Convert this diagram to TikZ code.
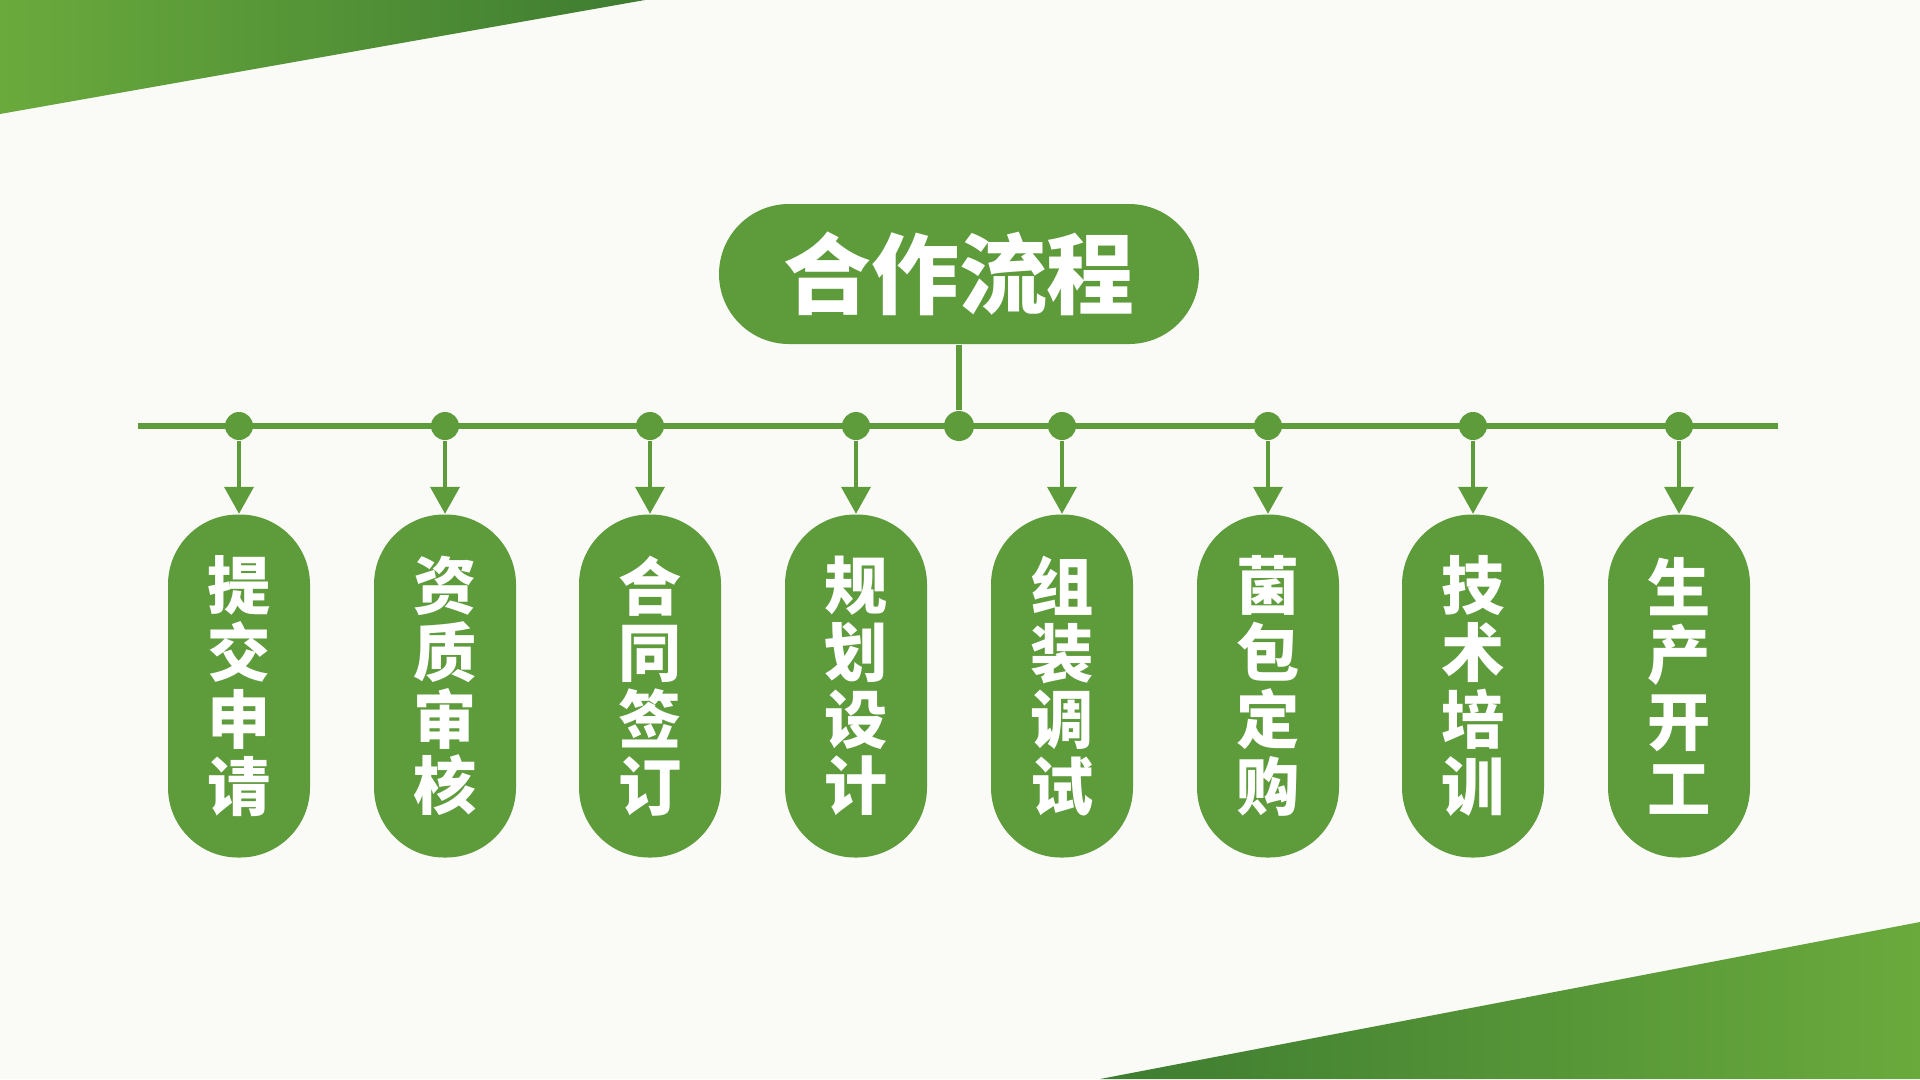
\documentclass[tikz,border=0pt]{standalone}
\usepackage{fontspec}
\newfontfamily\cjk{Noto Sans CJK SC}[BoldFont={Noto Sans CJK SC Black}]
\usetikzlibrary{arrows.meta}
\definecolor{verde}{HTML}{5E9B3B}
\definecolor{verdeclaro}{HTML}{6AAA3C}
\definecolor{verdeoscuro}{HTML}{3E7C31}
\definecolor{fondo}{HTML}{FAFAF7}
\begin{document}
\begin{tikzpicture}[
  paso/.style={fill=verde,rounded corners=0.7cm,minimum width=1.42cm,minimum height=3.43cm,inner sep=0pt,text=white,align=center,font=\cjk\bfseries\fontsize{18}{19}\selectfont},
  punto/.style={circle,fill=verde,minimum size=0.28cm,inner sep=0pt},
  linea/.style={verde,line width=1.7pt},
  flecha/.style={verde,line width=1.1pt,-{Triangle[width=0.29cm,length=0.27cm]}}]
\fill[fondo] (0,0) rectangle (19.2,-10.79);
\shade[left color=verdeclaro,right color=verdeoscuro] (0,0) -- (6.45,0) -- (0,-1.14) -- cycle;
\shade[left color=verdeoscuro,right color=verdeclaro] (11.0,-10.79) -- (19.2,-9.22) -- (19.2,-10.79) -- cycle;
%\path[draw] (9.59,-2.74) node {titulo};
\node[fill=verde,rounded corners=0.7cm,minimum width=4.8cm,minimum height=1.4cm,text=white,font=\cjk\bfseries\fontsize{25}{25}\selectfont] (nodeTitle) at (9.59,-2.74) {合作流程};
\coordinate (busL) at (1.38,-4.26);
\coordinate (busR) at (17.78,-4.26);
\draw[linea] (busL) -- (busR);
\node[punto,minimum size=0.3cm] (nodeCenter) at (9.59,-4.26) {};
\draw[linea] (nodeTitle) -- (nodeCenter);
\node[punto] (nodeDot1) at (2.39,-4.26) {};
\node[punto] (nodeDot2) at (4.45,-4.26) {};
\node[punto] (nodeDot3) at (6.50,-4.26) {};
\node[punto] (nodeDot4) at (8.56,-4.26) {};
\node[punto] (nodeDot5) at (10.62,-4.26) {};
\node[punto] (nodeDot6) at (12.68,-4.26) {};
\node[punto] (nodeDot7) at (14.73,-4.26) {};
\node[punto] (nodeDot8) at (16.79,-4.26) {};
\node[paso] (nodeStep1) at (2.39,-6.86) {提\\交\\申\\请};
\node[paso] (nodeStep2) at (4.45,-6.86) {资\\质\\审\\核};
\node[paso] (nodeStep3) at (6.50,-6.86) {合\\同\\签\\订};
\node[paso] (nodeStep4) at (8.56,-6.86) {规\\划\\设\\计};
\node[paso] (nodeStep5) at (10.62,-6.86) {组\\装\\调\\试};
\node[paso] (nodeStep6) at (12.68,-6.86) {菌\\包\\定\\购};
\node[paso] (nodeStep7) at (14.73,-6.86) {技\\术\\培\\训};
\node[paso] (nodeStep8) at (16.79,-6.86) {生\\产\\开\\工};
\draw[flecha] (nodeDot1) -- (nodeStep1);
\draw[flecha] (nodeDot2) -- (nodeStep2);
\draw[flecha] (nodeDot3) -- (nodeStep3);
\draw[flecha] (nodeDot4) -- (nodeStep4);
\draw[flecha] (nodeDot5) -- (nodeStep5);
\draw[flecha] (nodeDot6) -- (nodeStep6);
\draw[flecha] (nodeDot7) -- (nodeStep7);
\draw[flecha] (nodeDot8) -- (nodeStep8);
\end{tikzpicture}
\end{document}
